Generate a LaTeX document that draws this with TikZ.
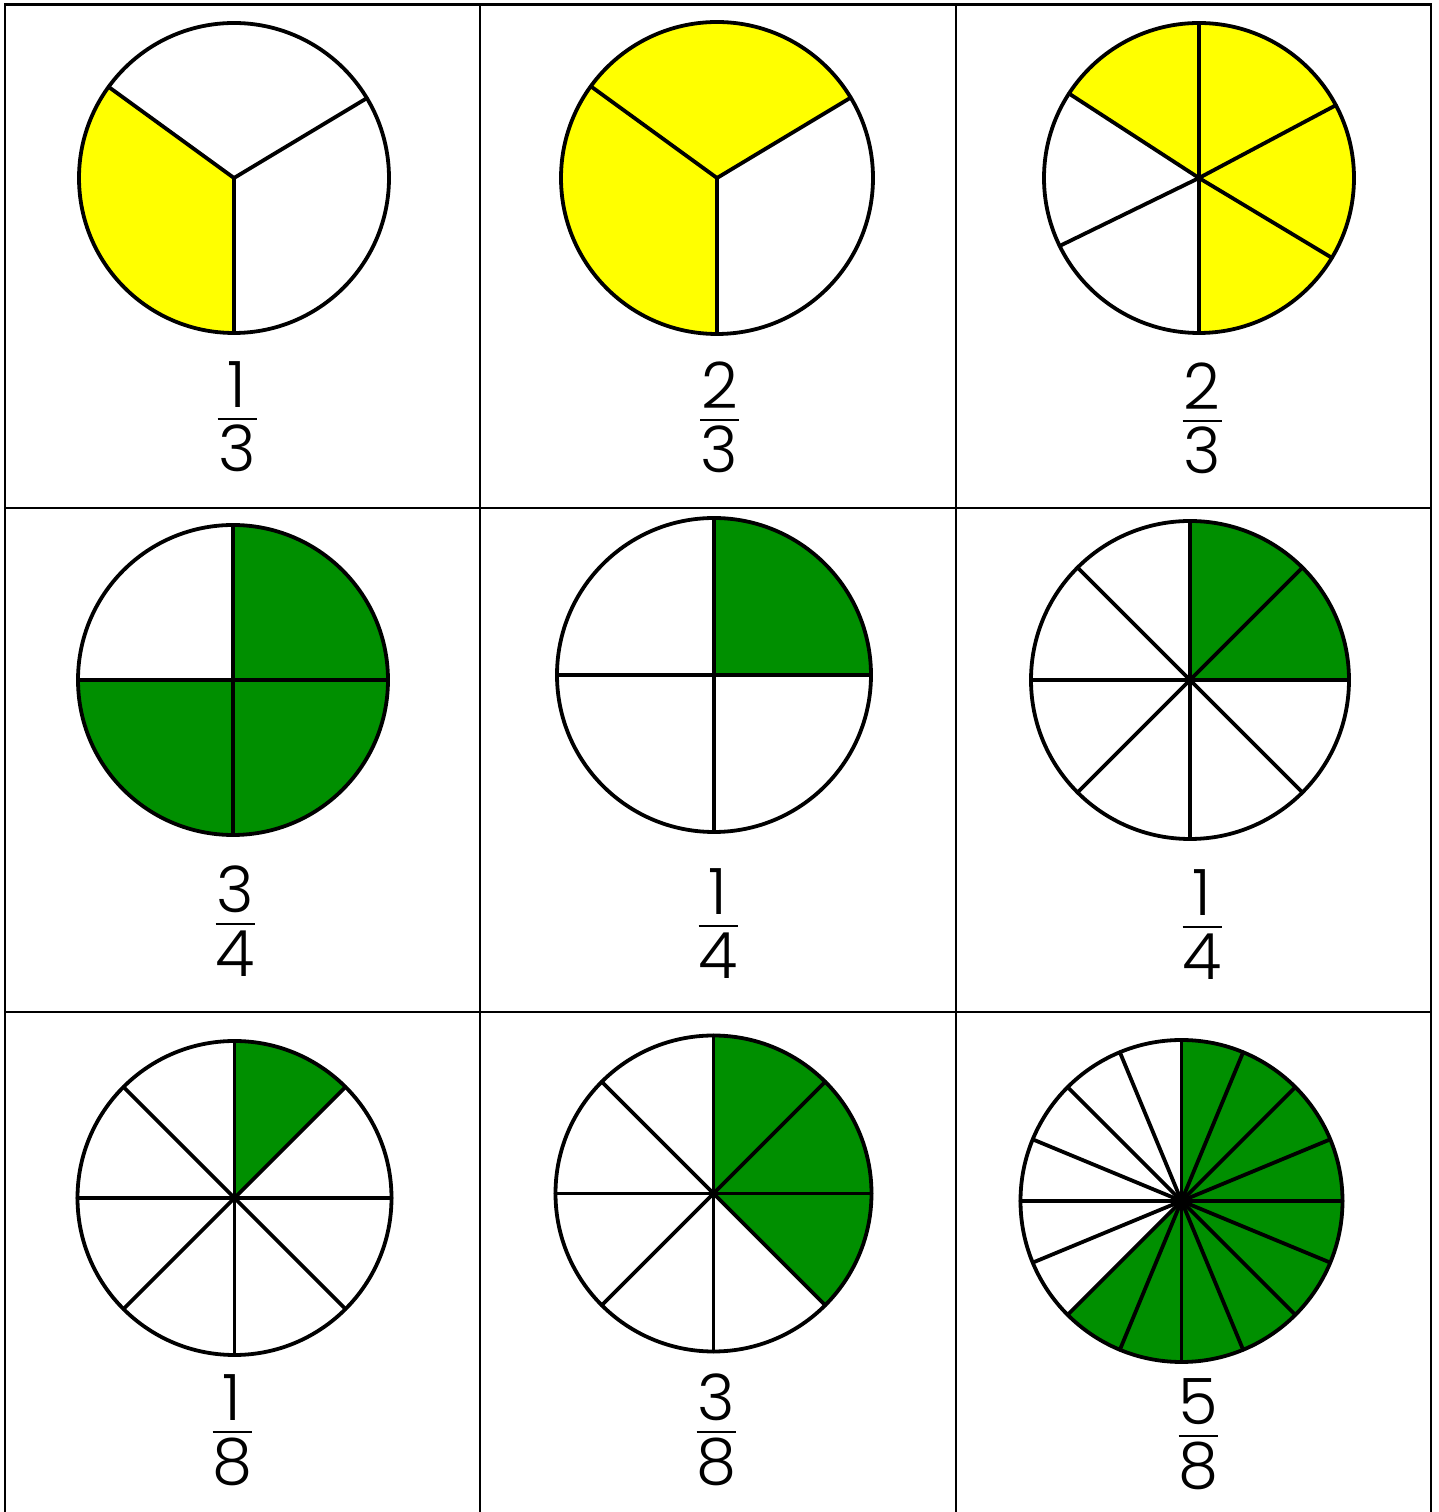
\documentclass[tikz,border=0pt]{standalone}
\usepackage{fontspec}
\setmainfont{Poppins Light}
\usetikzlibrary{calc}
\definecolor{pieyellow}{RGB}{255,255,0}
\definecolor{piegreen}{RGB}{0,143,0}
\tikzset{
  outline/.style={line width=1.9pt, draw=black},
  spoke/.style={line width=1.9pt, draw=black, line cap=round},
  gridline/.style={line width=1.4pt, draw=black},
  digit/.style={font=\fontsize{32}{38}\selectfont, inner sep=0pt, anchor=center},
  fracbar/.style={line width=1.4pt, draw=black},
}
% #1 name, #2 x, #3 y (image), #4 r, #5 spoke angles, #6 fill start, #7 fill end, #8 colour
\newcommand\mypie[8]{%
  \coordinate (#1) at (#2,{1512-#3});
  \fill[#8] (#1) -- ($(#1)+(#6:#4)$) arc[start angle=#6, end angle=#7, radius=#4] -- cycle;
  \foreach \a in {#5} \draw[spoke] (#1) -- ($(#1)+(\a:#4)$);
  \draw[outline] (#1) circle[radius=#4];
}
% #1 name, #2 x, #3 bar y (image), #4 numerator, #5 denominator
\newcommand\myfrac[5]{%
  \node[digit] (#1n) at (#2,{1512-(#3-34.5)}) {#4};
  \node[digit] (#1d) at (#2,{1512-(#3+29.5)}) {#5};
  \coordinate (#1l) at ({#2-19.5},{1512-#3});
  \coordinate (#1r) at ({#2+19.5},{1512-#3});
  \draw[fracbar] (#1l) -- (#1r);
}
\begin{document}
\begin{tikzpicture}[x=0.5pt,y=0.5pt]
\useasboundingbox (0,0) rectangle (1439,1512);
\fill[white] (0,0) rectangle (1439,1512);
% grid
\draw[gridline] (5,0) -- (5,1507.5) -- (1431,1507.5) -- (1431,0);
\draw[gridline] (480,1507.5) -- (480,0);
\draw[gridline] (956,1507.5) -- (956,0);
\draw[gridline] (5,{1512-508}) -- (1431,{1512-508});
\draw[gridline] (5,{1512-1012}) -- (1431,{1512-1012});
% row 1
\mypie{p11}{234}{178}{155}{31,144,270}{270}{144}{pieyellow}
\mypie{p12}{717}{178}{156}{31,144,270}{270}{31}{pieyellow}
\mypie{p13}{1199}{178}{155}{90,28,-31,-90,206,147}{147}{-90}{pieyellow}
% row 2
\mypie{p21}{233}{680}{155}{0,90,180,270}{90}{-180}{piegreen}
\mypie{p22}{714}{675}{157}{0,90,180,270}{90}{0}{piegreen}
\mypie{p23}{1190}{680}{159}{0,45,...,315}{90}{0}{piegreen}
% row 3
\mypie{p31}{234.5}{1198}{157}{0,45,...,315}{90}{45}{piegreen}
\mypie{p32}{713.5}{1193.5}{158}{0,45,...,315}{90}{-45}{piegreen}
\mypie{p33}{1181.5}{1201}{161}{0,22.5,...,337.5}{90}{-135}{piegreen}
% fractions
\myfrac{f11}{237}{419}{1}{3}
\myfrac{f12}{719.5}{420}{2}{3}
\myfrac{f13}{1202}{421}{2}{3}
\myfrac{f21}{235}{924}{3}{4}
\myfrac{f22}{718}{926}{1}{4}
\myfrac{f23}{1202}{927}{1}{4}
\myfrac{f31}{232}{1432}{1}{8}
\myfrac{f32}{716}{1432}{3}{8}
\myfrac{f33}{1198}{1436}{5}{8}
\end{tikzpicture}
\end{document}
